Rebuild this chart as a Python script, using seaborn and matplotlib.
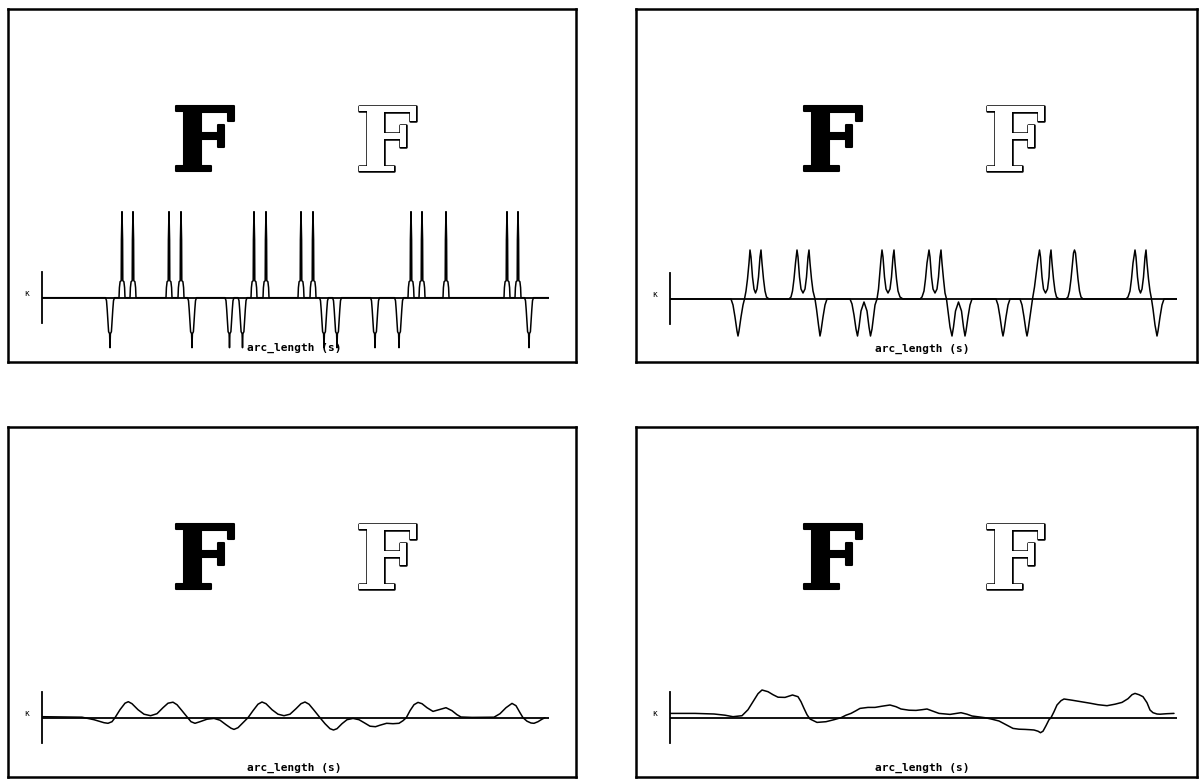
import matplotlib
matplotlib.use("Agg")
import matplotlib.pyplot as plt
import matplotlib.patheffects as pe
import pandas as pd
import seaborn as sns

sns.set_style("white")

FIG_W, FIG_H = 1204, 782
S_END = 507  # arc length at the end of the contour

# corners of the F contour along the arc length (finest scale, panel 1)
SPIKE_UP_S = [80, 91, 127, 139, 212, 224, 259, 271, 369, 380, 404, 465, 476]
SPIKE_DOWN_S = [68, 150, 187.5, 200.5, 282, 295, 333, 357, 487]

# shape of one convex / concave corner at the finest scale
UP_DX = [-3.0, -2.6, -1.9, -0.8, -0.6, 0.0, 0.6, 0.8, 1.9, 2.6, 3.0]
UP_K = [0, 10, 16, 17, 58, 86, 58, 17, 16, 10, 0]
DOWN_DX = [-4.5, -3.5, -2.8, -1.4, -0.4, 0.0, 0.4, 1.4, 2.8, 3.5, 4.5]
DOWN_K = [0, -3, -12, -34, -36, -50, -36, -34, -12, -3, 0]

# panel 2: smoothed curvature (scale 2)
S2 = [0, 61, 63, 65, 67, 68, 69, 71, 73, 74.5, 76, 77.5, 79, 80, 81, 82.5, 84, 85.5, 87, 88.5,
      90, 91, 92, 93.5, 95, 96.5, 99, 119, 121, 122.5, 124, 125.5, 127, 128, 129.5, 131, 133,
      135, 136.5, 138, 139, 140, 141.5, 143, 145, 146.5, 148.5, 150, 151, 153, 155, 157, 180,
      182, 184, 186, 187.5, 189, 191, 194, 197, 199, 200.5, 202, 203.5, 205, 207, 208.5, 210,
      211, 212, 213, 214.5, 216, 218, 220, 221.5, 223, 224, 225, 226.5, 228, 230, 233, 250,
      252, 254, 255.5, 257, 259, 260, 261.5, 263, 265, 267, 268.5, 270, 271, 272, 273.5, 275,
      276.5, 278, 280, 282, 283.5, 285.5, 288.5, 291.5, 293.5, 295, 296, 298, 300, 302, 326,
      328, 330, 332, 333, 334, 336, 338, 340, 350, 352, 354, 356, 357, 358, 360, 362.5, 364.5,
      366.5, 368, 369.5, 370.5, 372, 373.5, 375.5, 377.5, 379, 380, 381, 382, 383.5, 385,
      386.5, 389, 396, 398, 399.5, 401, 402.5, 403.5, 404.5, 405.5, 406.5, 408, 409.5, 411,
      413, 456, 458, 460, 461.5, 463, 465, 466, 467.5, 469, 470.5, 472, 473.5, 475, 476, 477,
      478.5, 480, 481.5, 483, 485, 487, 488, 490, 492, 494, 507]
K2 = [0, 0, -6, -18, -32, -37, -32, -18, -6, 0, 8, 20, 36, 49, 42, 22, 10, 6, 10, 22,
      42, 49, 36, 20, 8, 2, 0, 0, 2, 8, 20, 36, 49, 42, 22, 10, 6,
      10, 22, 42, 49, 36, 20, 8, 0, -10, -26, -37, -32, -18, -6, 0, 0,
      -5, -16, -30, -37, -28, -12, -3, -12, -28, -37, -30, -18, -6, 0, 10, 28,
      40, 49, 42, 22, 10, 6, 10, 22, 42, 49, 36, 20, 8, 2, 0, 0,
      2, 8, 20, 36, 49, 42, 22, 10, 6, 10, 22, 42, 49, 36, 20, 6,
      0, -12, -28, -37, -28, -12, -3, -12, -28, -37, -32, -18, -6, 0, 0,
      -6, -18, -32, -37, -32, -18, -6, 0, 0, -6, -18, -32, -37, -32, -18, 0, 12,
      28, 40, 49, 42, 22, 10, 6, 10, 22, 42, 49, 36, 20, 8,
      2, 0, 0, 2, 8, 20, 36, 46, 49, 46, 36, 20, 8, 2,
      0, 0, 2, 8, 20, 36, 49, 42, 22, 10, 6, 10, 22, 42, 49, 36,
      20, 8, 0, -10, -26, -37, -32, -18, -6, 0, 0]

# panel 3: smoothed curvature (scale 3)
S3 = [0, 40, 52, 62, 66, 70, 73, 78, 83, 86.3, 90, 96, 102, 108.6, 115, 121, 126, 131, 135,
      140, 145.7, 149, 153, 158, 165, 172, 178, 184, 189, 192, 196, 201, 206, 211, 216, 220,
      224, 230, 236, 242, 248, 254, 259, 263, 267, 272, 278, 283, 288, 291.5, 295, 300, 305,
      311, 317, 323, 328, 333.5, 338, 344.6, 351, 357, 361, 364.3, 368, 372, 376, 380, 385,
      391, 397, 404, 410, 415, 419, 430, 452, 458, 464, 470, 474, 478, 481, 485, 489, 492,
      496, 500, 503]
K3 = [1, 0.5, -2, -5, -5.6, -4, 0, 8, 14.5, 16, 14, 8, 3.5, 2, 4, 10, 14.5, 15.5, 13,
      7, 0, -4, -5.6, -4, -1.5, -0.7, -2.5, -7, -10.5, -11.7, -10, -5, 0, 7, 13.5, 15.7,
      14, 8, 3.5, 2, 3.5, 9, 14, 15.7, 13.5, 7.5, 0, -6, -11, -12.3, -11, -6, -2,
      -0.7, -2, -5.5, -8.5, -9, -7.5, -5.6, -6, -5.6, -3, 0, 7, 13, 15.3, 14, 10,
      6.3, 8, 10, 7, 3, 0.7, 0.3, 0.5, 4, 10, 14.3, 12, 5, 0, -3.5, -5.3, -5.6,
      -4, -1.5, 0]

# panel 4: smoothed curvature (coarsest scale)
S4 = [0, 25, 44, 55, 63, 72, 78, 83, 88, 92, 98, 103, 108, 115, 122.5, 128, 131, 134, 137,
      140, 147, 156, 164, 171, 176, 181, 186, 190, 198, 205, 212, 220, 226, 231, 239, 246,
      252, 257, 263, 269, 280, 291, 297, 302, 315, 322, 329, 336, 343, 349, 355, 360, 364,
      368, 370.5, 373, 376, 379, 381, 384, 387, 391, 394, 402, 411, 420, 428, 437, 445, 452,
      458, 462, 465, 469, 473, 477, 480, 483, 487, 490, 497, 504]
K4 = [4.3, 4.3, 3.7, 2.5, 1, 2, 8, 16, 24, 27.7, 26, 23, 20.5, 20.3, 22.7, 21, 16, 9.3, 3,
      -1.3, -4.7, -4, -2, 0, 2.5, 4.3, 7, 9.3, 10.3, 10.3, 11.5, 12.7, 11, 8.7, 7.5, 7.3,
      8, 8.7, 6.5, 4.3, 3.3, 5, 3.5, 1.7, 0, -1.5, -3.3, -7, -10.7, -11.5, -11.7, -12,
      -12.3, -13.5, -15, -13.5, -8, -2, 0, 6, 12.7, 17, 18.7, 17.5, 16, 14.5, 13, 12, 13.5,
      15.3, 19, 23, 24.3, 23, 21, 15, 7.7, 5, 3.7, 3.5, 4, 4.3]

# pixel layout of the four panels: frame box and curve origin (axis line, zero line)
BOXES = [(8, 9, 576, 362), (636, 9, 1197, 362), (8, 427, 576, 777), (636, 427, 1197, 777)]
ORIGINS = [(42, 297.7), (670, 299), (42, 717.7), (670, 717.7)]


def spike_curve(up_s, down_s):
    events = sorted([(c, UP_DX, UP_K) for c in up_s] + [(c, DOWN_DX, DOWN_K) for c in down_s])
    s_pts, k_pts = [0.0], [0.0]
    for c, dxs, ks in events:
        s_pts += [c + d for d in dxs]
        k_pts += list(ks)
    s_pts.append(S_END)
    k_pts.append(0.0)
    return pd.DataFrame({"s": s_pts, "kappa": k_pts})


curves = [
    spike_curve(SPIKE_UP_S, SPIKE_DOWN_S),
    pd.DataFrame({"s": S2, "kappa": K2}),
    pd.DataFrame({"s": S3, "kappa": K3}),
    pd.DataFrame({"s": S4, "kappa": K4}),
]


def px_rect(x0, y_top, x1, y_bot):
    return [x0 / FIG_W, 1 - y_bot / FIG_H, (x1 - x0) / FIG_W, (y_bot - y_top) / FIG_H]


fig = plt.figure(figsize=(FIG_W / 100, FIG_H / 100), dpi=100)

K_LO, K_HI = -60, 95
for box, (ox, oy), df in zip(BOXES, ORIGINS, curves):
    # frame around the panel
    frame = fig.add_axes(px_rect(*box))
    frame.set_xticks([])
    frame.set_yticks([])
    for sp in frame.spines.values():
        sp.set_visible(True)
        sp.set_color("black")
        sp.set_linewidth(1.8)

    # the shape and its outline
    bx, by = box[0], box[1]
    fig.text((bx + 195.5) / FIG_W, 1 - (by + 162) / FIG_H, "F", family="DejaVu Serif",
             fontweight="bold", fontsize=64, color="black", ha="center", va="baseline",
             path_effects=[pe.withStroke(linewidth=1.5, foreground="black")])
    fig.text((bx + 378) / FIG_W, 1 - (by + 162) / FIG_H, "F", family="DejaVu Serif",
             fontweight="bold", fontsize=64, color="white", ha="center", va="baseline",
             path_effects=[pe.withStroke(linewidth=1.8, foreground="black")])

    # curvature vs arc length
    ax = fig.add_axes(px_rect(ox, oy - K_HI, ox + S_END, oy - K_LO))
    ax.patch.set_alpha(0)
    sns.lineplot(data=df, x="s", y="kappa", sort=False, estimator=None,
                 color="black", linewidth=1.1, ax=ax)
    ax.axhline(0, color="black", linewidth=1.3)
    ax.set_xlim(0, S_END)
    ax.set_ylim(K_LO, K_HI)
    for side in ["top", "right", "bottom"]:
        ax.spines[side].set_visible(False)
    ax.spines["left"].set_bounds(-25.5, 25.5)
    ax.spines["left"].set_linewidth(1.3)
    ax.spines["left"].set_color("black")
    ax.set_xticks([])
    ax.set_yticks([])
    ax.set_xlabel("")
    ax.set_ylabel("")
    ax.text(-15, 4, "κ", fontsize=6, color="black", ha="center", va="center", clip_on=False)
    ax.text(252, -50, "arc_length (s)", family="DejaVu Sans Mono", fontweight="bold",
            fontsize=8, color="black", ha="center", va="center")

fig.savefig("out.png", dpi=100)
